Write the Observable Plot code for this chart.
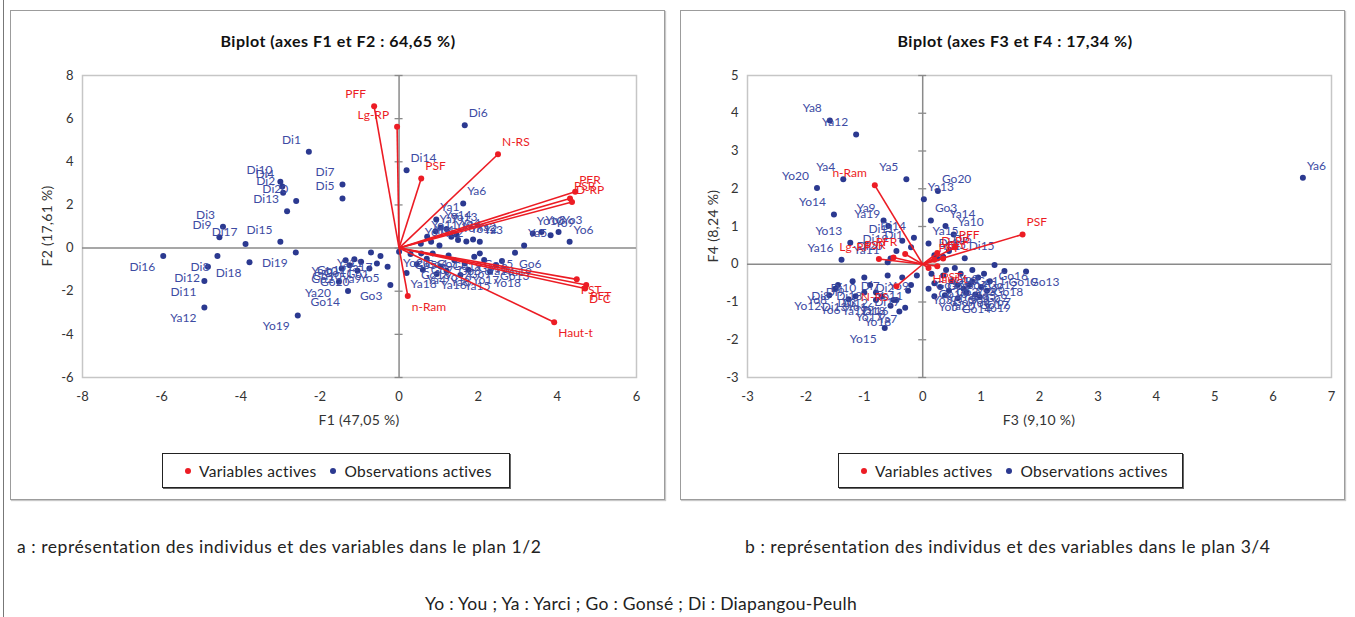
<!DOCTYPE html>
<html>
<head>
<meta charset="utf-8">
<script src="https://cdn.jsdelivr.net/npm/d3@7"></script>
<script src="https://cdn.jsdelivr.net/npm/@observablehq/plot@0.6"></script>
<style>
  html, body { margin: 0; padding: 0; background: #fff; }
  body { width: 1355px; height: 617px; position: relative; overflow: hidden; font-family: Lato, "Open Sans", sans-serif; color: #222; }
  .abs { position: absolute; }
  .panel { position: absolute; top: 10px; height: 490px; border: 1px solid #9c9c9c; box-sizing: border-box; box-shadow: 1px 1px 1px #c8c8c8; }
  .title { position: absolute; font-weight: bold; font-size: 16px; letter-spacing: 0.5px; color: #111; white-space: nowrap; transform: translateX(-50%); }
  .axt { position: absolute; font-size: 14px; letter-spacing: 0.3px; color: #333; white-space: nowrap; transform: translateX(-50%); }
  .ayt { position: absolute; font-size: 14px; letter-spacing: 0.3px; color: #333; white-space: nowrap; transform: translate(-50%, -50%) rotate(-90deg); }
  .legend { position: absolute; height: 35px; border: 1.5px solid #222; box-sizing: border-box; box-shadow: 1px 1px 0 #666; display: flex; align-items: center; font-size: 15.5px; letter-spacing: 0.3px; color: #222; white-space: nowrap; }
  .sw { display: inline-block; width: 6px; height: 6px; border-radius: 50%; margin: 0 8px 0 0; vertical-align: middle; }
  .cap { position: absolute; font-size: 17.5px; letter-spacing: 0.55px; color: #222; white-space: nowrap; }
  svg { overflow: visible; }
</style>
</head>
<body>
<div class="abs" style="left:3px;top:0;width:1px;height:617px;background:#777"></div>
<div class="panel" style="left:10px;width:655px"></div>
<div class="panel" style="left:680px;width:665px"></div>
<div id="left" class="abs" style="left:10px;top:10px"></div>
<div id="right" class="abs" style="left:680px;top:10px"></div>

<div class="title" style="left:338px;top:31px">Biplot (axes F1 et F2 : 64,65 %)</div>
<div class="title" style="left:1015px;top:31px">Biplot (axes F3 et F4 : 17,34 %)</div>

<div class="axt" style="left:359px;top:411px">F1 (47,05 %)</div>
<div class="axt" style="left:1039px;top:411px">F3 (9,10 %)</div>
<div class="ayt" style="left:46px;top:226px">F2 (17,61 %)</div>
<div class="ayt" style="left:712px;top:226px">F4 (8,24 %)</div>

<div class="legend" style="left:162px;top:453px;width:348px">
  <span style="margin-left:22px"></span><span class="sw" style="background:#ec1c24"></span>Variables actives
  <span style="margin-left:14px"></span><span class="sw" style="background:#2b3990"></span>Observations actives
</div>
<div class="legend" style="left:838px;top:453px;width:345px">
  <span style="margin-left:22px"></span><span class="sw" style="background:#ec1c24"></span>Variables actives
  <span style="margin-left:14px"></span><span class="sw" style="background:#2b3990"></span>Observations actives
</div>

<div class="cap" style="left:17px;top:536px">a : représentation des individus et des variables dans le plan 1/2</div>
<div class="cap" style="left:745px;top:536px">b : représentation des individus et des variables dans le plan 3/4</div>
<div class="cap" style="left:641px;top:593px;transform:translateX(-50%);letter-spacing:0.3px">Yo : You ; Ya : Yarci ; Go : Gonsé ; Di : Diapangou-Peulh</div>

<script>
// ---------- DATA ----------
const varNames = ["PFF","Lg-RP","PSF","N-RS","PFR","PSR","D-RP","n-Ram","Haut-t","PST","PFT","D-C"];
const varF1 = [-0.63,-0.05,0.56,2.50,4.45,4.32,4.37,0.22,3.92,4.49,4.73,4.70];
const varF2 = [6.57,5.62,3.23,4.35,2.61,2.30,2.14,-2.22,-3.44,-1.45,-1.71,-1.87];
const varF3 = [0.55,-0.75,1.71,-0.45,-0.30,-0.50,0.25,-0.82,0.10,0.25,0.20,0.35];
const varF4 = [0.45,0.14,0.79,-0.58,0.27,0.18,0.30,2.09,-0.10,-0.05,0.12,0.15];

const obsNames = [
  "Yo1","Yo2","Yo3","Yo4","Yo5","Yo6","Yo7","Yo8","Yo9","Yo10","Yo11","Yo12","Yo13","Yo14","Yo15","Yo16","Yo17","Yo18","Yo19","Yo20",
  "Ya1","Ya2","Ya3","Ya4","Ya5","Ya6","Ya7","Ya8","Ya9","Ya10","Ya11","Ya12","Ya13","Ya14","Ya15","Ya16","Ya17","Ya18","Ya19","Ya20",
  "Go1","Go2","Go3","Go4","Go5","Go6","Go7","Go8","Go9","Go10","Go11","Go12","Go13","Go14","Go15","Go16","Go17","Go18","Go19","Go20",
  "Di1","Di2","Di3","Di4","Di5","Di6","Di7","Di8","Di9","Di10","Di11","Di12","Di13","Di14","Di15","Di16","Di17","Di18","Di19","Di20"
];
const obsF1 = [
  0.81,1.02,4.03,1.45,-0.29,4.31,1.49,3.60,3.83,3.38,0.71,1.70,1.20,1.05,0.55,1.05,1.75,2.30,-2.56,0.00,
  0.94,1.87,2.04,0.60,3.16,1.62,0.92,1.20,-0.75,-1.35,-0.71,-4.92,2.15,1.32,1.55,0.95,-0.47,0.19,2.60,-1.52,
  -0.56,-1.45,-0.22,0.56,0.29,2.93,0.70,1.40,1.66,-1.25,-0.96,-1.13,2.45,-1.29,2.04,0.45,0.85,1.90,1.25,-1.05,
  -2.28,-2.93,-4.45,-2.95,-1.43,1.66,-1.43,-4.59,-4.54,-3.00,-4.92,-4.83,-2.83,0.19,-3.00,-5.96,-3.88,-3.78,-2.61,-2.60
];
const obsF2 = [
  0.29,0.12,0.75,0.62,-0.87,0.29,0.37,0.75,0.60,0.68,0.52,0.30,0.88,0.95,0.20,-0.85,-1.00,-1.10,-3.13,-0.17,
  1.33,0.40,0.29,-1.00,0.12,2.07,0.78,-1.05,-0.95,-0.56,-0.20,-2.76,-0.55,0.52,-1.25,-1.20,-0.37,-1.15,-0.60,-1.56,
  -0.71,-0.95,-1.71,-0.25,-0.28,-0.22,-0.50,-0.56,-0.71,-0.80,-0.63,-0.52,-0.80,-1.99,-0.25,-0.75,-0.25,-0.40,-0.35,-1.05,
  4.46,2.56,0.99,2.85,2.30,5.69,2.95,-0.37,0.50,3.07,-1.53,-0.87,1.71,3.61,0.29,-0.37,0.19,-0.66,-0.20,2.18
];
const obsF3 = [
  0.30,0.55,0.10,0.75,0.20,-1.27,1.10,-1.50,-0.10,0.40,-0.20,-1.60,-1.24,-1.52,-0.65,-0.70,-0.55,-0.40,0.98,-1.81,
  0.25,0.60,0.85,-1.36,-0.28,6.51,-0.30,-1.59,-0.67,0.53,-0.60,-1.14,0.02,0.39,0.10,-1.39,-0.80,-0.50,-0.59,0.38,
  0.35,0.50,0.14,0.65,0.80,0.95,0.45,0.70,1.00,0.20,0.85,1.05,1.77,0.60,0.15,1.23,0.90,1.15,1.40,0.26,
  -0.20,-0.35,-1.00,0.20,0.35,0.45,-0.60,-1.45,-1.20,-1.00,-0.35,-0.80,-1.15,-0.15,0.72,-0.45,-0.25,-0.90,-0.45,-0.55
];
const obsF4 = [
  -0.60,-0.10,-0.65,-0.75,-0.85,-0.93,-0.70,-0.65,-0.30,-0.15,-0.55,-0.82,0.57,1.32,-1.69,-0.85,-1.10,-1.25,-0.87,2.02,
  0.15,-0.55,-0.45,2.25,2.25,2.29,-1.15,3.81,1.16,0.79,0.05,3.44,1.72,1.01,0.55,0.12,-0.95,-0.95,1.01,-0.82,
  -0.30,-0.45,1.16,-0.25,-0.55,-0.35,-0.70,-0.65,-0.60,-0.50,-0.15,-0.25,-0.19,-0.90,-0.25,-0.02,-0.80,-0.45,-0.18,1.94,
  0.45,-0.35,-0.75,0.24,0.20,0.35,-0.30,-0.55,-0.45,-0.35,0.62,-0.75,-0.85,0.70,0.16,-0.95,-0.70,-0.55,0.35,0.15
];

const ticksF1 = [-8,-6,-4,-2,0,2,4,6];
const ticksF2 = [-6,-4,-2,0,2,4,6,8];
const ticksF3 = [-3,-2,-1,0,1,2,3,4,5,6,7];
const ticksF4 = [-3,-2,-1,0,1,2,3,4,5];

// ---------- STYLE ----------
const BLUE_DOT = "#2b3990", BLUE_TXT = "#3d4ba3", RED = "#ec1c24", AXIS = "#8a8a8a";

function labelMarks(data, color) {
  const marks = [];
  for (const sx of [true, false]) for (const sy of [true, false]) {
    const sub = data.filter(d => (d.x >= 0) === sx && (d.y >= 0) === sy);
    marks.push(Plot.text(sub, {
      x: "x", y: "y", text: "name", fill: color, fontSize: 12,
      textAnchor: sx ? "start" : "end", dx: sx ? 4 : -8, dy: sy ? -12 : 11
    }));
  }
  return marks;
}

function biplot({xv, yv, vx, vy, xdom, ydom, xt, yt, width, height, ml, mr, mt, mb}) {
  const obs = obsNames.map((n, i) => ({name: n, x: xv[i], y: yv[i]}));
  const vars = varNames.map((n, i) => ({name: n, x: vx[i], y: vy[i]}));
  const fmt = d => String(d);
  return Plot.plot({
    width, height,
    marginLeft: ml, marginRight: mr, marginTop: mt, marginBottom: mb,
    style: {fontFamily: "Lato, 'Open Sans', sans-serif", fontSize: "13px", color: "#333", background: "transparent", overflow: "visible"},
    x: {domain: xdom, ticks: xt, tickSize: 0, tickPadding: 14, tickFormat: fmt, label: null},
    y: {domain: ydom, ticks: yt, tickSize: 0, tickPadding: 9, tickFormat: fmt, label: null},
    marks: [
      Plot.frame({stroke: "#c6c6c6", strokeWidth: 1.5}),
      Plot.ruleX([0], {stroke: AXIS, strokeWidth: 1.5}),
      Plot.ruleY([0], {stroke: AXIS, strokeWidth: 1.5}),
      Plot.ruleY(yt, {y: d => d, x1: () => 0, x2: () => 0, insetLeft: -4, insetRight: -4, stroke: AXIS, strokeWidth: 1.3}),
      Plot.dot(obs, {x: "x", y: "y", r: 3, fill: BLUE_DOT, stroke: "none"}),
      ...labelMarks(obs, BLUE_TXT),
      Plot.link(vars, {x1: () => 0, y1: () => 0, x2: "x", y2: "y", stroke: RED, strokeWidth: 1.6}),
      Plot.dot(vars, {x: "x", y: "y", r: 3, fill: RED, stroke: "none"}),
      ...labelMarks(vars, RED)
    ]
  });
}

document.getElementById("left").appendChild(biplot({
  xv: obsF1, yv: obsF2, vx: varF1, vy: varF2,
  xdom: [-8, 6], ydom: [-6, 8], xt: ticksF1, yt: ticksF2,
  width: 655, height: 430, ml: 72, mr: 29, mt: 65, mb: 63
}));
document.getElementById("right").appendChild(biplot({
  xv: obsF3, yv: obsF4, vx: varF3, vy: varF4,
  xdom: [-3, 7], ydom: [-3, 5], xt: ticksF3, yt: ticksF4,
  width: 665, height: 430, ml: 67, mr: 14, mt: 65, mb: 63
}));
</script>
</body>
</html>
